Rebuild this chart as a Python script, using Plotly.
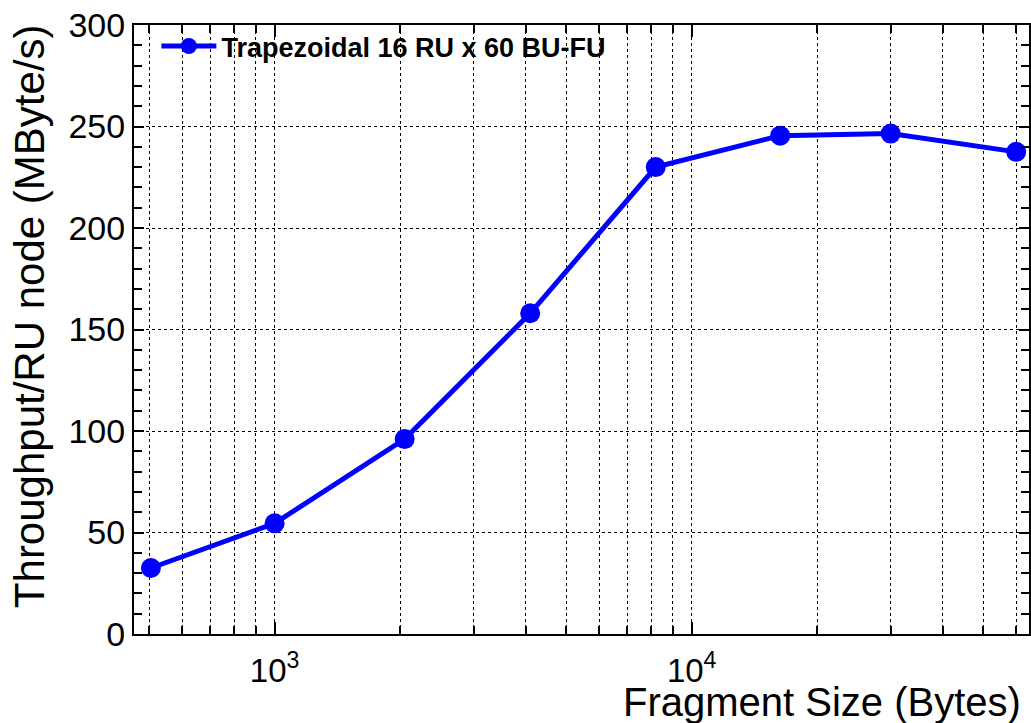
import numpy as np
import plotly.graph_objects as go

# Data
fragment_size = [505, 1000, 2050, 4100, 8200, 16300, 30000, 60000]
throughput = [32.5, 54.5, 96, 158, 230, 245.5, 246.5, 237.5]
series_name = "Trapezoidal 16 RU x 60 BU-FU"

x_major = [1000, 10000]
x_major_text = ["10<sup>3</sup>", "10<sup>4</sup>"]
x_minor = [500, 600, 700, 800, 900, 2000, 3000, 4000, 5000, 6000, 7000, 8000, 9000,
           20000, 30000, 40000, 50000, 60000]

FONT = "Liberation Sans, Arial, Helvetica, sans-serif"
BLUE = "rgb(0,0,255)"

fig = go.Figure()
fig.add_trace(go.Scatter(
    x=fragment_size, y=throughput, mode="lines+markers", name=series_name,
    line=dict(color=BLUE, width=5),
    marker=dict(color=BLUE, size=20, line=dict(width=0)),
))

fig.update_layout(
    width=1031, height=723,
    margin=dict(l=134, r=0, t=25, b=89),
    paper_bgcolor="white", plot_bgcolor="white",
    font=dict(family=FONT, color="black"),
    showlegend=True,
    legend=dict(x=0.025, y=1.005, xanchor="left", yanchor="top",
                bgcolor="rgba(0,0,0,0)", borderwidth=0, itemwidth=55,
                font=dict(family=FONT, size=27, color="black", weight="bold")),
)

fig.update_xaxes(
    type="log", range=[np.log10(460), np.log10(64400)],
    tickmode="array", tickvals=x_major, ticktext=x_major_text,
    tickfont=dict(size=33, family=FONT),
    ticks="inside", ticklen=12, tickwidth=1.5, tickcolor="black",
    ticklabelstandoff=6, ticklabeloverflow="allow",
    showline=True, linecolor="black", linewidth=2, mirror="allticks",
    showgrid=True, gridcolor="black", gridwidth=1, griddash="3px,3px",
    zeroline=False,
    minor=dict(tickmode="array", tickvals=x_minor, ticks="inside", ticklen=8,
               tickcolor="black", showgrid=True, gridcolor="black", gridwidth=1,
               griddash="3px,3px"),
)

fig.update_yaxes(
    range=[0, 300], tickmode="linear", tick0=0, dtick=50,
    tickfont=dict(size=34, family=FONT),
    ticks="inside", ticklen=10, tickwidth=1.5, tickcolor="black",
    ticklabeloverflow="allow",
    showline=True, linecolor="black", linewidth=2, mirror="allticks",
    showgrid=True, gridcolor="black", gridwidth=1, griddash="3px,3px",
    zeroline=False,
    minor=dict(dtick=10, ticks="inside", ticklen=8, tickcolor="black", showgrid=False),
)

fig.add_annotation(
    text="Fragment Size (Bytes)", xref="paper", yref="paper",
    x=0.9933, y=-0.111, xanchor="right", yanchor="middle", showarrow=False,
    font=dict(family=FONT, size=40, color="black"),
)
fig.add_annotation(
    text="Throughput/RU node (MByte/s)", xref="paper", yref="paper",
    x=-0.116, y=1.005, xanchor="center", yanchor="top", textangle=-90, showarrow=False,
    font=dict(family=FONT, size=42, color="black"),
)

fig.write_html("out.html", config={"displayModeBar": False},
               post_script="document.body.style.margin='0';document.body.style.overflow='hidden';")
